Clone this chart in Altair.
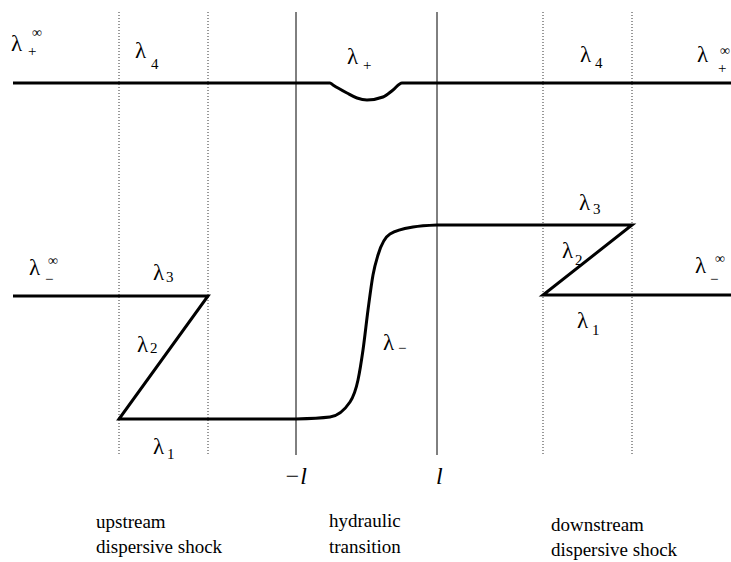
import altair as alt
import pandas as pd

W, H = 731, 562
SERIF = "Liberation Serif"

# Guide lines: dotted borders of the two dispersive shocks, solid lines at -l and l
dotted_x = [119, 208, 543, 632]
solid_x = [296, 437]
guide_top, guide_bottom = 12, 455

# lambda_+ characteristic (flat with a dip inside the transition)
plus_x = [13, 330, 333, 347, 357, 367, 383, 393, 402, 731]
plus_y = [83, 83, 85, 93, 98, 100, 97, 90, 83, 83]

# lambda_- : upstream shock zigzag, hydraulic transition, downstream shock zigzag
up_x = [13, 208, 119, 296]
up_y = [296, 296, 419, 419]
trans_x = [296, 330, 350, 358, 363, 368, 373, 378, 390, 413, 437]
trans_y = [419, 417, 402, 380, 350, 310, 275, 255, 234, 227, 225]
down_x = [437, 632, 543, 731]
down_y = [225, 225, 295, 295]

# Labels
lam_x = [11, 135, 347, 580, 697, 29, 153, 137, 153, 383, 579, 562, 577, 695]
lam_y = [51, 58, 64, 62, 62, 275, 280, 352, 454, 350, 210, 258, 328, 273]

sub_text = ["+", "4", "+", "4", "+", "\u2212", "3", "2", "1", "\u2212", "3", "2", "1", "\u2212"]
sub_x = [28, 151, 363, 595, 718, 45, 166, 150, 167, 398, 593, 575, 592, 710]
sub_y = [56, 69, 70, 68, 73, 284, 282, 353, 459, 353, 214, 265, 335, 284]

sup_x = [32, 720, 48, 715]
sup_y = [37, 55, 265, 263]

axis_text = ["\u2212l", "l"]
axis_x = [284, 436]
axis_y = [484, 484]

cap_text = ["upstream", "dispersive shock", "hydraulic", "transition",
            "downstream", "dispersive shock"]
cap_x = [96, 96, 329, 329, 551, 551]
cap_y = [528, 553, 527, 553, 531, 556]

xs = alt.Scale(domain=[0, W], nice=False, zero=False)
ys = alt.Scale(domain=[0, H], reverse=True, nice=False, zero=False)


def X(field="x"):
    return alt.X(f"{field}:Q", scale=xs, axis=None)


def Y(field="y"):
    return alt.Y(f"{field}:Q", scale=ys, axis=None)


guides_dot = pd.DataFrame({"x": dotted_x, "y": guide_top, "y2": guide_bottom})
guides_solid = pd.DataFrame({"x": solid_x, "y": guide_top, "y2": guide_bottom})

dotted = alt.Chart(guides_dot).mark_rule(
    color="#333", strokeWidth=1, strokeDash=[1, 2]
).encode(x=X(), y=Y(), y2="y2:Q")

solid = alt.Chart(guides_solid).mark_rule(
    color="#000", strokeWidth=1
).encode(x=X(), y=Y(), y2="y2:Q")

smooth_df = pd.concat([
    pd.DataFrame({"x": plus_x, "y": plus_y, "seg": "plus"}),
    pd.DataFrame({"x": trans_x, "y": trans_y, "seg": "trans"}),
])
smooth = alt.Chart(smooth_df).mark_line(
    color="#000", strokeWidth=3, interpolate="monotone"
).encode(x=X(), y=Y(), detail="seg:N")

zig_df = pd.concat([
    pd.DataFrame({"x": up_x, "y": up_y, "seg": "up", "i": range(len(up_x))}),
    pd.DataFrame({"x": down_x, "y": down_y, "seg": "down", "i": range(len(down_x))}),
])
zig = alt.Chart(zig_df).mark_line(
    color="#000", strokeWidth=3, strokeJoin="miter"
).encode(x=X(), y=Y(), detail="seg:N", order="i:Q")

lam = alt.Chart(pd.DataFrame({"x": lam_x, "y": lam_y, "t": "\u03bb"})).mark_text(
    font=SERIF, fontSize=23, align="left", baseline="alphabetic", color="#000"
).encode(x=X(), y=Y(), text="t:N")

sub = alt.Chart(pd.DataFrame({"x": sub_x, "y": sub_y, "t": sub_text})).mark_text(
    font=SERIF, fontSize=15, align="left", baseline="alphabetic", color="#000"
).encode(x=X(), y=Y(), text="t:N")

sup = alt.Chart(pd.DataFrame({"x": sup_x, "y": sup_y, "t": "\u221e"})).mark_text(
    font=SERIF, fontSize=14, align="left", baseline="alphabetic", color="#000"
).encode(x=X(), y=Y(), text="t:N")

axis_lbl = alt.Chart(pd.DataFrame({"x": axis_x, "y": axis_y, "t": axis_text})).mark_text(
    font=SERIF, fontSize=24, fontStyle="italic", align="left",
    baseline="alphabetic", color="#000"
).encode(x=X(), y=Y(), text="t:N")

captions = alt.Chart(pd.DataFrame({"x": cap_x, "y": cap_y, "t": cap_text})).mark_text(
    font=SERIF, fontSize=19, align="left", baseline="alphabetic", color="#000"
).encode(x=X(), y=Y(), text="t:N")

chart = alt.layer(
    dotted, solid, smooth, zig, lam, sub, sup, axis_lbl, captions
).properties(
    width=W, height=H, autosize="none", padding=0
).configure_view(stroke=None)

chart.save("out.html", embed_options={"renderer": "svg", "actions": False})
